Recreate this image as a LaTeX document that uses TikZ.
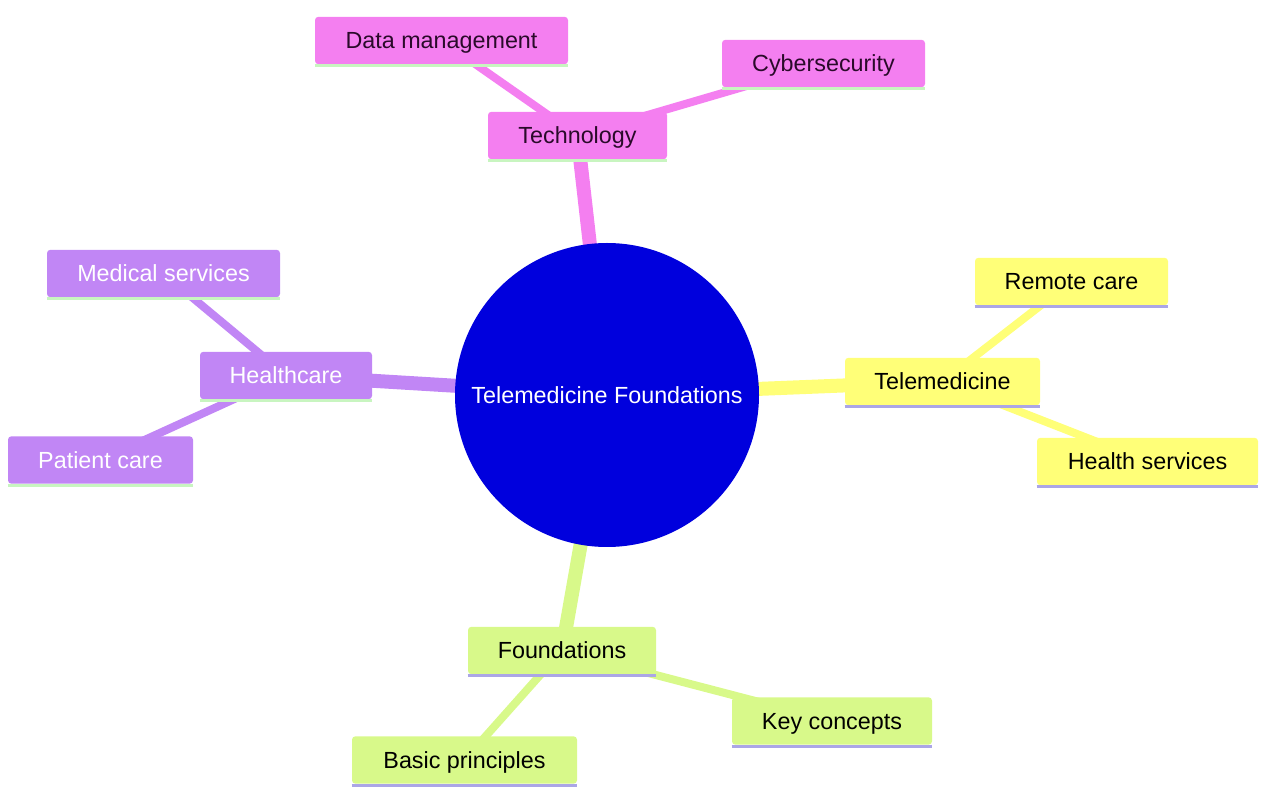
\documentclass[tikz,border=0pt]{standalone}
\usepackage{fontspec}
\setmainfont{Liberation Sans}
\usetikzlibrary{backgrounds}
\definecolor{pinkc}{HTML}{F47FF0}
\definecolor{purpc}{HTML}{C186F5}
\definecolor{yelc}{HTML}{FFFF78}
\definecolor{grnc}{HTML}{D8F98A}
\definecolor{bluec}{HTML}{0000DD}
\definecolor{lgreen}{HTML}{C8F5C0}
\definecolor{lav}{HTML}{ABA6E6}
\definecolor{pinktxt}{HTML}{2A0A2A}
\tikzset{
  box/.style={rectangle, rounded corners=2.5pt, inner sep=0pt, font=\fontsize{17.5}{21}\selectfont, minimum height=35.5pt, text height=12.6pt, text depth=0pt},
  pbox/.style={box, fill=pinkc, text=pinktxt},
  ubox/.style={box, fill=purpc, text=white},
  ybox/.style={box, fill=yelc, text=black},
  gbox/.style={box, fill=grnc, text=black},
  thick edge/.style={line width=10.5pt},
  thin edge/.style={line width=6pt},
  uline/.style={line width=2.4pt}
}
\begin{document}
\begin{tikzpicture}[x=0.75pt,y=-0.75pt]
\useasboundingbox (0,0) rectangle (1261,787);
% root
\node[circle, fill=bluec, text=white, minimum size=228pt, inner sep=0pt, font=\fontsize{17.5}{21}\selectfont] (root) at (607,395) {Telemedicine Foundations};
% technology branch
\node[pbox, minimum width=134.25pt] (tech) at (577.5,135.5) {Technology};
\node[pbox, minimum width=189.75pt] (dm) at (441.5,40.5) {Data management};
\node[pbox, minimum width=152.25pt] (cyber) at (823.5,63.5) {Cybersecurity};
% telemedicine branch
\node[ybox, minimum width=146.25pt] (tele) at (942.5,381.5) {Telemedicine};
\node[ybox, minimum width=144.75pt] (remote) at (1071.5,281.5) {Remote care};
\node[ybox, minimum width=165.75pt] (health) at (1147.5,461.5) {Health services};
% healthcare branch
\node[ubox, minimum width=129pt] (hc) at (286,375.5) {Healthcare};
\node[ubox, minimum width=174.75pt] (med) at (163.5,273.5) {Medical services};
\node[ubox, minimum width=138.75pt] (pat) at (100.5,460) {Patient care};
% foundations branch
\node[gbox, minimum width=141pt] (found) at (562,650.5) {Foundations};
\node[gbox, minimum width=168.75pt] (basic) at (464.5,760) {Basic principles};
\node[gbox, minimum width=150pt] (key) at (832,721) {Key concepts};
% underlines
\foreach \n in {tech,dm,cyber,hc,med,pat}{
  \draw[uline, lgreen] ([yshift=-0.9pt]\n.south west) -- ([yshift=-0.9pt]\n.south east);
}
\foreach \n in {tele,remote,health,found,basic,key}{
  \draw[uline, lav] ([yshift=-0.9pt]\n.south west) -- ([yshift=-0.9pt]\n.south east);
}
\begin{scope}[on background layer]
  \draw[thick edge, pinkc] (root.center) -- (tech.center);
  \draw[thin edge, pinkc] (tech.center) -- (dm.center);
  \draw[thin edge, pinkc] (tech.center) -- (cyber.center);
  \draw[thick edge, yelc] (root.center) -- (tele.center);
  \draw[thin edge, yelc] (tele.center) -- (remote.center);
  \draw[thin edge, yelc] (tele.center) -- (health.center);
  \draw[thick edge, purpc] (root.center) -- (hc.center);
  \draw[thin edge, purpc] (hc.center) -- (med.center);
  \draw[thin edge, purpc] (hc.center) -- (pat.center);
  \draw[thick edge, grnc] (root.center) -- (found.center);
  \draw[thin edge, grnc] (found.center) -- (basic.center);
  \draw[thin edge, grnc] (found.center) -- (key.center);
\end{scope}
\end{tikzpicture}
\end{document}
